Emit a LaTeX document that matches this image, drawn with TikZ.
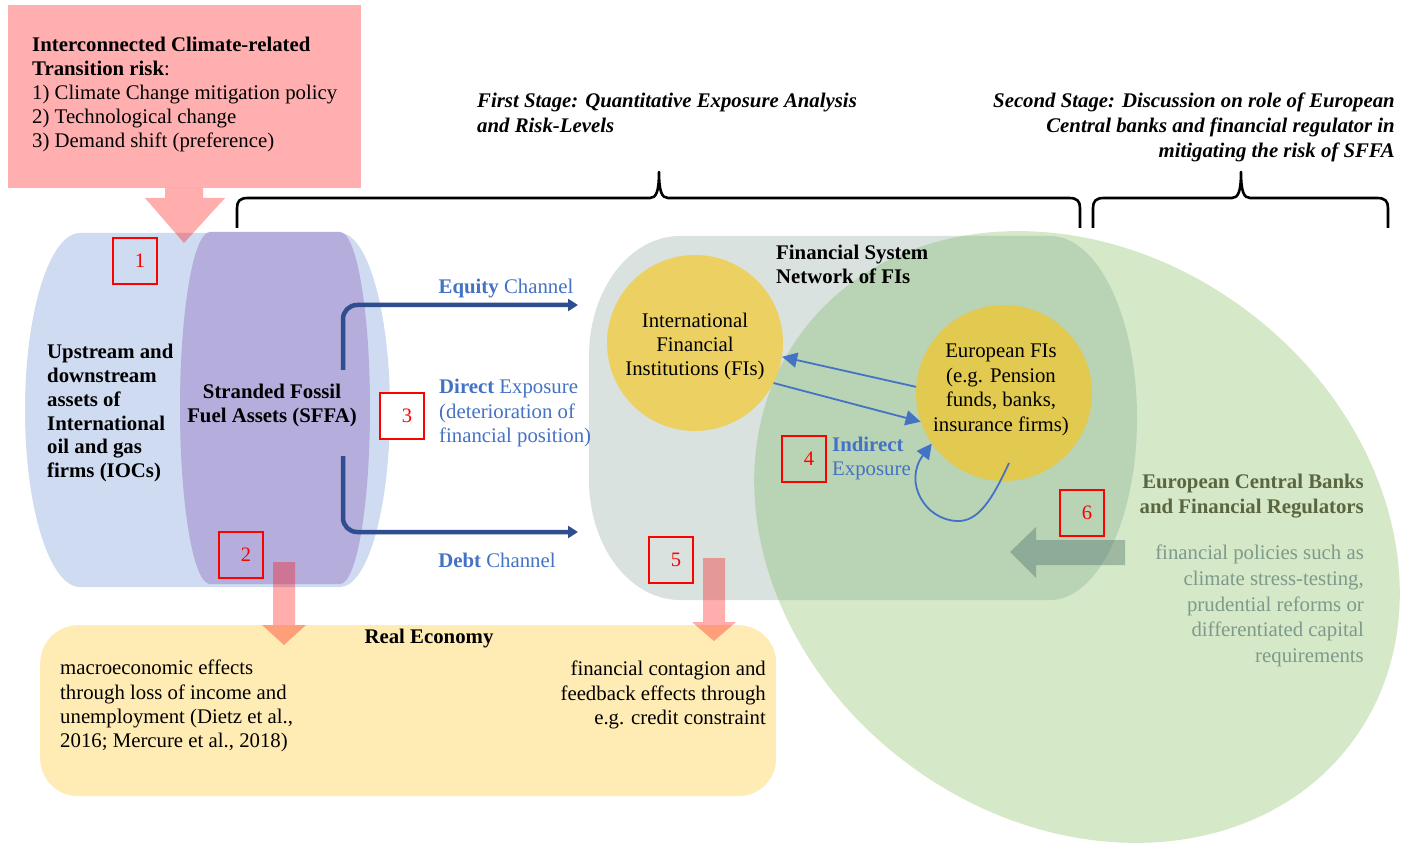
\documentclass[tikz,border=0pt]{standalone}
\usepackage{fontspec}
\setmainfont{Liberation Serif}
\usetikzlibrary{arrows.meta,calc}
\definecolor{pinkbox}{HTML}{FFAFAF}
\definecolor{cylblue}{HTML}{CFDBF0}
\definecolor{cylpurple}{HTML}{B5ADDC}
\definecolor{greyc}{HTML}{D9E2DE}
\definecolor{greenc}{HTML}{D5E8C8}
\definecolor{overlapc}{HTML}{B9D3B5}
\definecolor{intlyel}{HTML}{ECD162}
\definecolor{euyel}{HTML}{E1CA4F}
\definecolor{yelbox}{HTML}{FFEBB4}
\definecolor{bluetext}{HTML}{4472C4}
\definecolor{darkblue}{HTML}{2F4E8F}
\definecolor{olivetext}{HTML}{5B6540}
\definecolor{policytext}{HTML}{7E9A8B}
\definecolor{arrowsix}{HTML}{4D706A}
\def\grpath{(680,236) -- (1050,236) arc[start angle=-90, end angle=90, x radius=87, y radius=182] -- (680,600) arc[start angle=90, end angle=180, x radius=91, y radius=120] -- (589,356) arc[start angle=180, end angle=270, x radius=91, y radius=120] -- cycle}
\begin{document}
\begin{tikzpicture}[x=1pt,y=-1pt,
  txt/.style={inner sep=0pt, font=\fontsize{20.8}{24.5}\selectfont},
  numbox/.style={draw=red, line width=1.1pt, minimum width=44pt, minimum height=46pt, inner sep=0pt, text=red, font=\fontsize{20.5}{24}\selectfont},
  chan/.style={draw=darkblue, line width=4.5pt, rounded corners=14pt, -{Triangle[length=10pt,width=12pt]}},
  thinarr/.style={draw=bluetext, line width=1.8pt, -{Triangle[length=15pt,width=15pt]}},
  pinkarr/.style={fill=red, fill opacity=0.32},
  bracel/.style={draw=black, line width=2.6pt, line join=round}]
\useasboundingbox (0,0) rectangle (1409,850);
\fill[white] (0,0) rectangle (1409,850);

% green ellipse, grey financial system and overlap
\fill[greenc, rotate around={-36.8:(1077,537)}] (1077,537) ellipse [x radius=343, y radius=283];
\fill[greyc] \grpath;
\begin{scope}
  \clip \grpath;
  \fill[overlapc, rotate around={-36.8:(1077,537)}] (1077,537) ellipse [x radius=343, y radius=283];
\end{scope}

% cylinders
\fill[cylblue] (80,233) -- (340,233) arc[start angle=-90, end angle=90, x radius=50, y radius=177] -- (80,587) arc[start angle=90, end angle=270, x radius=55, y radius=177] -- cycle;
\fill[cylpurple] (210,232) -- (340,232) arc[start angle=-90, end angle=90, x radius=30, y radius=176] -- (210,584) arc[start angle=90, end angle=270, x radius=30, y radius=176] -- cycle;

% real economy box
\node[fill=yelbox, rounded corners=38pt, minimum width=736pt, minimum height=171pt, anchor=north west, inner sep=0pt] (re) at (40,625) {};

% pink box and arrows
\node[fill=pinkbox, minimum width=353pt, minimum height=183pt, anchor=north west, inner sep=0pt] (risk) at (8,5) {};
\fill[pinkarr] (165,188) -- (203,188) -- (203,198) -- (225,198) -- (184,243) -- (145,198) -- (165,198) -- cycle;
\fill[pinkarr] (273,562) -- (295,562) -- (295,625) -- (306,625) -- (284,645) -- (262,625) -- (273,625) -- cycle;
\fill[pinkarr] (703,558) -- (725,558) -- (725,622) -- (736,622) -- (714,641) -- (692,622) -- (703,622) -- cycle;

% arrow 6
\fill[arrowsix, fill opacity=0.4] (1125,540) -- (1036,540) -- (1036,527) -- (1010,552) -- (1036,578) -- (1036,565) -- (1125,565) -- cycle;

% texts in pink box
\node[txt, anchor=north west, align=left, font=\fontsize{20.8}{24}\selectfont] (risktxt) at (32,37) {\textbf{Interconnected Climate-related}\\\textbf{Transition risk}:\\1) Climate Change mitigation policy\\2) Technological change\\3) Demand shift (preference)};

% braces
\draw[bracel] (237,228) -- (237,208) .. controls (237,201) and (240,198) .. (248,198) -- (650,198) .. controls (656,198) and (659,192) .. (659,172) .. controls (659,192) and (662,198) .. (668,198) -- (1069,198) .. controls (1077,198) and (1080,201) .. (1080,208) -- (1080,228);
\draw[bracel] (1093,228) -- (1093,208) .. controls (1093,201) and (1096,198) .. (1104,198) -- (1232,198) .. controls (1238,198) and (1241,192) .. (1241,172) .. controls (1241,192) and (1244,198) .. (1250,198) -- (1377,198) .. controls (1385,198) and (1388,201) .. (1388,208) -- (1388,228);

% stage texts
\node[txt, anchor=north west, align=left, font=\fontsize{20.8}{25}\selectfont\bfseries\itshape] (stage1) at (477,93) {First Stage: Quantitative Exposure Analysis\\and Risk-Levels};
\node[txt, anchor=north east, align=right, font=\fontsize{20.8}{25}\selectfont\bfseries\itshape] (stage2) at (1395,93) {Second Stage: Discussion on role of European\\Central banks and financial regulator in\\mitigating the risk of SFFA};

% cylinder texts
\node[txt, anchor=north west, align=left, font=\fontsize{20.8}{23.8}\selectfont\bfseries] (ioc) at (47,344) {Upstream and\\downstream\\assets of\\International\\oil and gas\\firms (IOCs)};
\node[txt, anchor=north, align=center, font=\fontsize{20.8}{24}\selectfont\bfseries] (sffa) at (272,384) {Stranded Fossil\\Fuel Assets (SFFA)};

% channel arrows
\coordinate (eqs) at (343,370);
\coordinate (eqe) at (578,305);
\coordinate (dbs) at (343,456);
\coordinate (dbe) at (578,532);
\draw[chan] (eqs) |- (eqe);
\draw[chan] (dbs) |- (dbe);
\node[txt, text=bluetext] (eqlab) at (506,289) {\textbf{Equity} Channel};
\node[txt, text=bluetext, anchor=north west, align=left] (direct) at (439,379) {\textbf{Direct} Exposure\\(deterioration of\\financial position)};
\node[txt, text=bluetext] (dblab) at (497,560) {\textbf{Debt} Channel};

% financial system
\node[txt, anchor=north west, align=left, font=\fontsize{20.8}{24}\selectfont\bfseries] (fstitle) at (776,245) {Financial System\\Network of FIs};
\node[circle, fill=intlyel, minimum size=176pt, inner sep=0pt] (intl) at (695,343) {};
\node[txt, align=center, font=\fontsize{20.8}{24}\selectfont] (intltxt) at (695,346) {International\\Financial\\Institutions (FIs)};
\node[circle, fill=euyel, minimum size=176pt, inner sep=0pt] (eu) at (1004,393) {};
\node[txt, align=center] (eutxt) at (1001,390) {European FIs\\(e.g. Pension\\funds, banks,\\insurance firms)};

\draw[thinarr] (eu.176) -- (intl.-9);
\draw[thinarr] (intl.-27) -- (eu.199);
\coordinate (ls) at (1009,463);
\draw[thinarr] (ls) .. controls (992,500) and (978,522) .. (957,521) .. controls (925,520) and (903,482) .. (eu.215);

\node[txt, anchor=north west, align=left, text=bluetext, font=\fontsize{20.8}{24}\selectfont] (indirect) at (832,437) {\textbf{Indirect}\\Exposure};

% ECB texts
\node[txt, anchor=north east, align=right, text=olivetext, font=\fontsize{20.8}{25}\selectfont\bfseries] (ecb) at (1364,474) {European Central Banks\\and Financial Regulators};
\node[txt, anchor=north east, align=right, text=policytext, font=\fontsize{20.8}{25.7}\selectfont] (policy) at (1364,545) {financial policies such as\\climate stress-testing,\\prudential reforms or\\differentiated capital\\requirements};

% real economy texts
\node[txt, anchor=north, font=\fontsize{20.8}{24}\selectfont\bfseries] (retitle) at (429,629) {Real Economy};
\node[txt, anchor=north west, align=left, font=\fontsize{20.8}{24.3}\selectfont] (retl) at (60,660) {macroeconomic effects\\through loss of income and\\unemployment (Dietz et al.,\\2016; Mercure et al., 2018)};
\node[txt, anchor=north east, align=right, font=\fontsize{20.8}{24.3}\selectfont] (retr) at (766,661) {financial contagion and\\feedback effects through\\e.g. credit constraint};

% number boxes
\node[numbox] (n1) at (135,261) {\hspace*{10pt}1};
\node[numbox] (n2) at (241,555) {\hspace*{10pt}2};
\node[numbox, fill=white] (n3) at (402,416) {\hspace*{10pt}3};
\node[numbox] (n4) at (804,459) {\hspace*{10pt}4};
\node[numbox] (n5) at (671,560) {\hspace*{10pt}5};
\node[numbox] (n6) at (1082,513) {\hspace*{10pt}6};
\end{tikzpicture}
\end{document}
